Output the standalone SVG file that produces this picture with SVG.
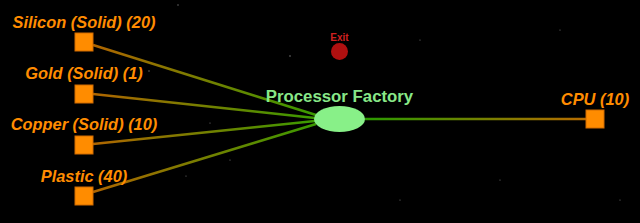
<svg xmlns="http://www.w3.org/2000/svg" width="640" height="223" viewBox="0 0 640 223">
<style>
.lbl{font-family:"Liberation Sans",Arial,sans-serif;font-weight:bold;font-style:italic;font-size:16.4px;fill:#ff8c00;text-anchor:middle}
.sq{fill:#ff8c00;stroke:#d06a00;stroke-width:1}
.ln{stroke-width:2.5;fill:none}
.star{fill:#777}
</style>
<defs>
<linearGradient id="gIn" gradientUnits="objectBoundingBox" x1="0" y1="0" x2="1" y2="0"><stop offset="0" stop-color="#b06500"/><stop offset="1" stop-color="#3a9a00"/></linearGradient>
<linearGradient id="gOut" gradientUnits="userSpaceOnUse" x1="365" y1="0" x2="586" y2="0"><stop offset="0" stop-color="#2a9a00"/><stop offset="1" stop-color="#b86c00"/></linearGradient>
</defs>
<rect width="640" height="223" fill="#000"/>
<g id="stars">
<circle class="star" cx="178" cy="5" r="0.7"/><circle class="star" cx="149" cy="71" r="0.7"/><circle class="star" cx="290" cy="56" r="0.8"/><circle class="star" cx="230" cy="160" r="0.6"/><circle class="star" cx="420" cy="40" r="0.6"/><circle class="star" cx="500" cy="180" r="0.6"/><circle class="star" cx="560" cy="30" r="0.6"/><circle class="star" cx="210" cy="123" r="0.6"/><circle class="star" cx="186" cy="176" r="0.6"/><circle class="star" cx="620" cy="200" r="0.6"/><circle class="star" cx="400" cy="200" r="0.6"/>
</g>
<g id="connectors">
<line class="ln" x1="93" y1="45" x2="316" y2="115" stroke="url(#gIn)"/>
<line class="ln" x1="93" y1="94" x2="315" y2="118" stroke="url(#gIn)"/>
<line class="ln" x1="93" y1="144" x2="315" y2="121" stroke="url(#gIn)"/>
<line class="ln" x1="93" y1="192" x2="316" y2="124" stroke="url(#gIn)"/>
<line class="ln" x1="365" y1="119" x2="586" y2="119" stroke="url(#gOut)"/>
</g>
<g id="silicon"><text class="lbl" x="84" y="28">Silicon (Solid) (20)</text><rect class="sq" x="75" y="33" width="18" height="18"/></g>
<g id="gold"><text class="lbl" x="84" y="79">Gold (Solid) (1)</text><rect class="sq" x="75" y="85" width="18" height="18"/></g>
<g id="copper"><text class="lbl" x="84" y="130">Copper (Solid) (10)</text><rect class="sq" x="75" y="136" width="18" height="18"/></g>
<g id="plastic"><text class="lbl" x="84" y="182">Plastic (40)</text><rect class="sq" x="75" y="187" width="18" height="18"/></g>
<g id="cpu"><text class="lbl" x="595" y="105">CPU (10)</text><rect class="sq" x="586" y="110" width="18" height="18"/></g>
<g id="exit"><text x="339.5" y="41" font-family="Liberation Sans,Arial,sans-serif" font-weight="bold" font-size="10" fill="#d02020" text-anchor="middle">Exit</text><circle cx="339.5" cy="51.5" r="8.5" fill="#b01010"/></g>
<g id="factory"><text x="339.5" y="102" font-family="Liberation Sans,Arial,sans-serif" font-weight="bold" font-size="16.8" fill="#88e888" text-anchor="middle">Processor Factory</text><ellipse cx="339.5" cy="119" rx="25.5" ry="13" fill="#88f088"/></g>
</svg>
